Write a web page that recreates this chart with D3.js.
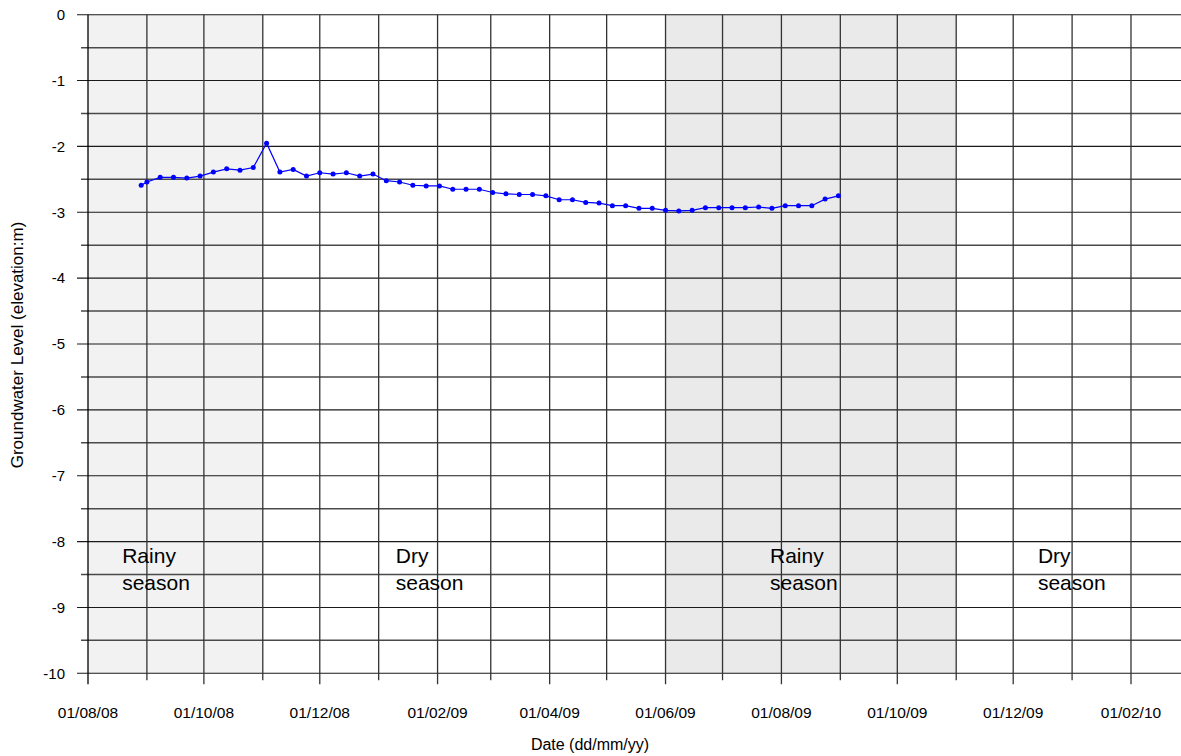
<!DOCTYPE html>
<html>
<head>
<meta charset="utf-8">
<script src="https://cdn.jsdelivr.net/npm/d3@7"></script>
<style>
  html, body { margin: 0; padding: 0; background: #fff; }
  svg { display: block; }
  text { font-family: "Liberation Sans", Arial, sans-serif; fill: #000; }
</style>
</head>
<body>
<svg id="chart" width="1181" height="756"></svg>
<script>
// ---- data ----
const dates = [
  "2008-08-29","2008-09-01","2008-09-08","2008-09-15","2008-09-22","2008-09-29",
  "2008-10-06","2008-10-13","2008-10-20","2008-10-27","2008-11-03","2008-11-10",
  "2008-11-17","2008-11-24","2008-12-01","2008-12-08","2008-12-15","2008-12-22",
  "2008-12-29","2009-01-05","2009-01-12","2009-01-19","2009-01-26","2009-02-02",
  "2009-02-09","2009-02-16","2009-02-23","2009-03-02","2009-03-09","2009-03-16",
  "2009-03-23","2009-03-30","2009-04-06","2009-04-13","2009-04-20","2009-04-27",
  "2009-05-04","2009-05-11","2009-05-18","2009-05-25","2009-06-01","2009-06-08",
  "2009-06-15","2009-06-22","2009-06-29","2009-07-06","2009-07-13","2009-07-20",
  "2009-07-27","2009-08-03","2009-08-10","2009-08-17","2009-08-24","2009-08-31"
];
const levels = [
  -2.59,-2.54,-2.47,-2.47,-2.48,-2.45,
  -2.39,-2.34,-2.36,-2.32,-1.95,-2.39,
  -2.35,-2.45,-2.40,-2.42,-2.40,-2.45,
  -2.42,-2.52,-2.54,-2.59,-2.60,-2.60,
  -2.65,-2.65,-2.65,-2.70,-2.72,-2.73,
  -2.73,-2.75,-2.81,-2.81,-2.85,-2.86,
  -2.90,-2.90,-2.94,-2.94,-2.97,-2.98,
  -2.97,-2.93,-2.93,-2.93,-2.93,-2.92,
  -2.94,-2.90,-2.90,-2.90,-2.80,-2.75
];
const xDomain = ["2008-08-01", "2010-03-01"];
const xTickLabels = ["2008-08-01","2008-10-01","2008-12-01","2009-02-01","2009-04-01",
  "2009-06-01","2009-08-01","2009-10-01","2009-12-01","2010-02-01"];
const yDomain = [-10, 0];
const yTickValues = [0,-1,-2,-3,-4,-5,-6,-7,-8,-9,-10];
const seasonStarts = ["2008-08-01", "2009-06-01"];
const seasonEnds = ["2008-11-01", "2009-11-01"];
const seasonLabels = [
  {date: "2008-08-19", lines: ["Rainy", "season"]},
  {date: "2009-01-10", lines: ["Dry", "season"]},
  {date: "2009-07-26", lines: ["Rainy", "season"]},
  {date: "2009-12-14", lines: ["Dry", "season"]}
];
const xTitle = "Date (dd/mm/yy)";
const yTitle = "Groundwater Level (elevation:m)";

// ---- layout ----
const parse = d3.timeParse("%Y-%m-%d");
const svg = d3.select("#chart");
const plotLeft = 88, plotTop = 14.7, plotBottom = 673.3;
const pxPerDay = 1.8998;
const x0 = parse(xDomain[0]), x1 = parse(xDomain[1]);
const spanDays = (x1 - x0) / 864e5;
const x = d3.scaleTime().domain([x0, x1]).range([plotLeft, plotLeft + spanDays * pxPerDay]);
const y = d3.scaleLinear().domain(yDomain).range([plotBottom, plotTop]);
const labelSet = new Set(xTickLabels);
const iso = d3.timeFormat("%Y-%m-%d");

// shading
const shadeFills = ["#f2f2f2", "#eaeaea"];
svg.append("g").selectAll("rect").data(seasonStarts).join("rect")
  .attr("x", (d) => x(parse(d)))
  .attr("y", plotTop)
  .attr("width", (d, i) => x(parse(seasonEnds[i])) - x(parse(d)))
  .attr("height", plotBottom - plotTop)
  .attr("fill", (d, i) => shadeFills[i]);

// horizontal gridlines every 0.5
const halfTicks = d3.range(0, 21).map(i => -i * 0.5);
svg.append("g").selectAll("line").data(halfTicks).join("line")
  .attr("x1", d => Number.isInteger(d) ? plotLeft - 11 : plotLeft - 7)
  .attr("x2", 1181)
  .attr("y1", d => y(d)).attr("y2", d => y(d))
  .attr("stroke", d => Number.isInteger(d) ? "#1a1a1a" : "#4a4a4a")
  .attr("stroke-width", d => Number.isInteger(d) ? 1.1 : 1.5);

// vertical gridlines monthly
const months = d3.timeMonth.range(x0, d3.timeMonth.offset(x1, 1));
svg.append("g").selectAll("line").data(months).join("line")
  .attr("x1", d => x(d)).attr("x2", d => x(d))
  .attr("y1", plotTop)
  .attr("y2", d => plotBottom + (labelSet.has(iso(d)) ? 11 : 7))
  .attr("stroke", (d, i) => i === 0 ? "#000" : "#333")
  .attr("stroke-width", 1.3);

// y tick labels
svg.append("g").selectAll("text").data(yTickValues).join("text")
  .attr("x", 65).attr("y", d => y(d)).attr("dy", "0.35em")
  .attr("text-anchor", "end").attr("font-size", 15)
  .text(d => String(d));

// x tick labels every 2 months
const fmt = d3.timeFormat("%d/%m/%y");
svg.append("g").selectAll("text").data(xTickLabels).join("text")
  .attr("x", d => x(parse(d))).attr("y", 718)
  .attr("text-anchor", "middle").attr("font-size", 15.5)
  .text(d => fmt(parse(d)));

// titles
svg.append("text").attr("x", 590).attr("y", 750)
  .attr("text-anchor", "middle").attr("font-size", 16).text(xTitle);
svg.append("text")
  .attr("transform", `translate(23,${345}) rotate(-90)`)
  .attr("text-anchor", "middle").attr("font-size", 17).text(yTitle);

// series
const pts = dates.map((d, i) => ({date: parse(d), v: levels[i]}));
svg.append("path").datum(pts)
  .attr("fill", "none").attr("stroke", "#0000ff").attr("stroke-width", 1.2)
  .attr("d", d3.line().x(d => x(d.date)).y(d => y(d.v)));
svg.append("g").selectAll("circle").data(pts).join("circle")
  .attr("cx", d => x(d.date)).attr("cy", d => y(d.v)).attr("r", 2.5)
  .attr("fill", "#0000ff");

// season labels
const sl = svg.append("g");
seasonLabels.forEach(s => {
  s.lines.forEach((t, j) => {
    sl.append("text")
      .attr("x", x(parse(s.date)))
      .attr("y", 563 + j * 27)
      .attr("font-size", 21)
      .text(t);
  });
});
</script>
</body>
</html>
